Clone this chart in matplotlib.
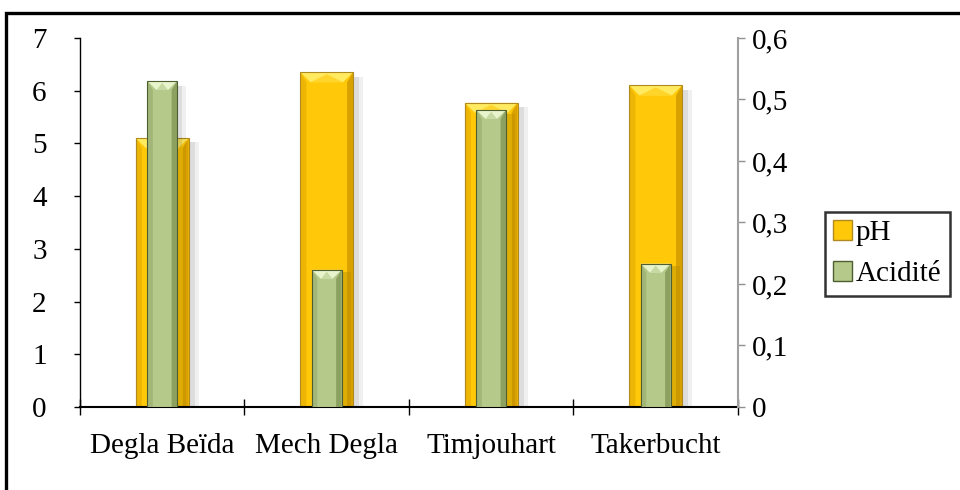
import matplotlib
matplotlib.use('Agg')
import matplotlib.pyplot as plt
from matplotlib.patches import Polygon, Rectangle, Patch
import numpy as np

categories = ['Degla Beïda', 'Mech Degla', 'Timjouhart', 'Takerbucht']
ph = [5.1, 6.35, 5.77, 6.1]
acidite = [0.53, 0.223, 0.483, 0.233]
left_ticks = [0, 1, 2, 3, 4, 5, 6, 7]
right_ticks = [0, 0.1, 0.2, 0.3, 0.4, 0.5, 0.6]
right_labels = ['0', '0,1', '0,2', '0,3', '0,4', '0,5', '0,6']

plt.rcParams['font.family'] = ['Liberation Serif', 'DejaVu Serif']
FS = 21

fig = plt.figure(figsize=(9.6, 4.9), dpi=100)
ax = fig.add_axes([0.0833, 0.1694, 0.6854, 0.7531])
ax2 = ax.twinx()
x = np.arange(len(categories))
ax.set_xlim(-0.5, len(categories) - 0.5)
ax.set_ylim(0, 7)
ax2.set_ylim(0, 0.6)

fig.canvas.draw()


def bevel_bars(axis, xs, vals, w, face, light, dark, edge, bev_px, z):
    axis.bar(xs, vals, width=w, color=face, edgecolor='none', zorder=z)
    p0 = axis.transData.transform((0, 0))
    p1 = axis.transData.transform((1, 1))
    bx = bev_px / (p1[0] - p0[0])
    by = bev_px / (p1[1] - p0[1])
    for xc, h in zip(xs, vals):
        x0, x1 = xc - w / 2, xc + w / 2
        # soft shadow
        for k, a in ((1.0, 0.06), (0.6, 0.08)):
            axis.add_patch(Rectangle((x1, 0), bx * k, h * 0.985, facecolor='#000000',
                                     alpha=a, edgecolor='none', zorder=z - 0.5))
        axis.add_patch(Polygon([(x0, 0), (x0 + bx * 0.6, 0), (x0 + bx * 0.6, h - by), (x0, h)],
                               closed=True, facecolor=dark, edgecolor='none', alpha=0.45, zorder=z + 0.1))
        axis.add_patch(Polygon([(x1, 0), (x1 - bx * 0.6, 0), (x1 - bx * 0.6, h - by), (x1, h)],
                               closed=True, facecolor=dark, edgecolor='none', zorder=z + 0.1))
        xm = (x0 + x1) / 2
        axis.add_patch(Polygon([(x0, h), (x1, h), (x1 - bx, h - by), (x0 + bx, h - by)],
                               closed=True, facecolor=light, edgecolor='none', zorder=z + 0.2))
        axis.add_patch(Polygon([(x0 + bx, h - by), (x1 - bx, h - by), (xm, h - by * 0.2)],
                               closed=True, facecolor=face, edgecolor='none', alpha=0.6, zorder=z + 0.25))
        axis.add_patch(Rectangle((x0, 0), w, h, facecolor='none', edgecolor=edge,
                                 linewidth=0.8, zorder=z + 0.3))


bevel_bars(ax, x, ph, 0.32, '#FFC808', '#FFEA60', '#D9A200', '#B08A20', 10, 2)
bevel_bars(ax2, x, acidite, 0.18, '#B4C98A', '#E8F4CC', '#8CA060', '#4E5E30', 9, 3)

ax.set_xticks(np.arange(len(categories) + 1) - 0.5)
ax.set_xticklabels([])
ax.set_xticks(x, minor=True)
ax.set_xticklabels(categories, minor=True, fontsize=FS)
ax.tick_params(axis='x', which='major', direction='inout', length=11, width=1, color='black')
ax.tick_params(axis='x', which='minor', length=0, pad=19)

ax.set_yticks(left_ticks)
ax.set_yticklabels([str(t) for t in left_ticks], fontsize=FS)
ax.tick_params(axis='y', direction='out', length=4, width=1, pad=20)

ax2.set_yticks(right_ticks)
ax2.set_yticklabels(right_labels, fontsize=FS)
ax2.tick_params(axis='y', direction='out', length=5, width=1, color='#909090', pad=5)

for a in (ax, ax2):
    a.spines['top'].set_visible(False)
ax.spines['right'].set_visible(False)
ax2.spines['left'].set_visible(False)
ax2.spines['bottom'].set_visible(False)
ax2.spines['right'].set_color('#A0A0A0')
ax2.spines['right'].set_linewidth(1.5)
ax.spines['left'].set_linewidth(1.0)
ax.spines['bottom'].set_linewidth(1.5)

handles = [Patch(facecolor='#FFC808', edgecolor='#B08A20', label='pH'),
           Patch(facecolor='#B4C98A', edgecolor='#4E5E30', label='Acidité')]
leg = fig.legend(handles=handles, loc='upper left', bbox_to_anchor=(0.859, 0.568),
                 fontsize=FS, frameon=True, fancybox=False, shadow=False,
                 handlelength=0.65, handleheight=0.65, handletextpad=0.1,
                 borderpad=0.3, labelspacing=0.5, borderaxespad=0)
leg.get_frame().set_edgecolor('black')
leg.get_frame().set_linewidth(1.8)

# outer frame of the chart
fig.add_artist(Rectangle((0.0065, -0.2), 1.2, 0.2 + 0.973, transform=fig.transFigure,
                         facecolor='none', edgecolor='black', linewidth=2.4, clip_on=False))

fig.savefig('out.png', dpi=100)
